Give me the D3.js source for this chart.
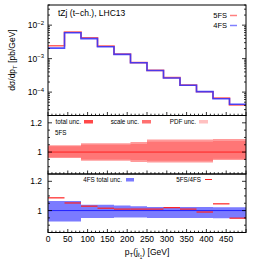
<!DOCTYPE html>
<html>
<head>
<meta charset="utf-8">
<script src="https://cdn.jsdelivr.net/npm/d3@7"></script>
<style>
body { margin: 0; background: #fff; }
svg { font-family: "Liberation Sans", Arial, sans-serif; }
</style>
</head>
<body>
<svg id="chart" width="262" height="266"></svg>
<script>
// bins of 500/12 GeV
var binEdges = d3.range(13).map(function(i) { return i * 500 / 12 })
var xTicks = [0, 50, 100, 150, 200, 250, 300, 350, 400, 450]

// dsigma/dpT [pb/GeV]
var fs5 = [2.43e-3, 6.18e-3, 4.2e-3, 2.36e-3, 1.36e-3, 7.6e-4, 4.45e-4, 2.7e-4, 1.62e-4, 1.02e-4, 6.6e-5, 4.1e-5]
var fs4 = [2.06e-3, 5.93e-3, 3.95e-3, 2.27e-3, 1.34e-3, 7.5e-4, 4.4e-4, 2.65e-4, 1.6e-4, 1.03e-4, 6.35e-5, 4.35e-5]

// 5FS relative uncertainties (ratio panel)
var tot5Up = [1.046, 1.046, 1.06, 1.06, 1.06, 1.068, 1.086, 1.086, 1.086, 1.086, 1.09, 1.09]
var tot5Dn = [0.96, 0.96, 0.94, 0.94, 0.94, 0.932, 0.928, 0.928, 0.928, 0.928, 0.946, 0.946]
var scale5Up = [1.04, 1.04, 1.05, 1.05, 1.05, 1.055, 1.07, 1.07, 1.07, 1.07, 1.075, 1.075]
var scale5Dn = [0.965, 0.965, 0.95, 0.95, 0.95, 0.945, 0.94, 0.94, 0.94, 0.94, 0.955, 0.955]

// 4FS total uncertainty + 5FS/4FS ratio
var tot4Up = [1.066, 1.066, 1.04, 1.04, 1.035, 1.03, 1.025, 1.025, 1.025, 1.025, 1.023, 1.023]
var tot4Dn = [0.925, 0.925, 0.95, 0.95, 0.952, 0.952, 0.95, 0.95, 0.95, 0.95, 0.948, 0.948]
var ratio = [1.087, 1.052, 1.03, 1.016, 1.01, 1.01, 1.01, 1.02, 1.01, 0.99, 1.046, 0.948]

var left = 48, right = 246
var top1 = 5, bot1 = 115.5, bot2 = 174, bot3 = 232.5

var svg = d3.select('#chart')

var x = d3.scaleLinear().domain([0, 500]).range([left, right])
var y1 = d3.scaleLog().domain([2e-5, 0.04]).range([bot1, top1])
var y2 = d3.scaleLinear().domain([0.85, 1.25]).range([bot2, bot1])
var y3 = d3.scaleLinear().domain([0.85, 1.25]).range([bot3, bot2])

function stepLine(vals, y) {
    var pts = []
    vals.forEach(function(v, i) {
        pts.push([x(binEdges[i]), y(v)])
        pts.push([x(binEdges[i+1]), y(v)])
    })
    return d3.line()(pts)
}

function band(up, dn, y) {
    var pts = []
    up.forEach(function(v, i) {
        pts.push([binEdges[i], v, dn[i]])
        pts.push([binEdges[i+1], v, dn[i]])
    })
    return d3.area()
        .x(function(d) { return x(d[0]) })
        .y0(function(d) { return y(d[2]) })
        .y1(function(d) { return y(d[1]) })(pts)
}

// ---- bands
svg.append('path').attr('d', band(tot5Up, tot5Dn, y2)).attr('fill', '#ff9a9a')
svg.append('path').attr('d', band(scale5Up, scale5Dn, y2)).attr('fill', '#ff7676')
svg.append('line').attr('x1', left).attr('x2', right).attr('y1', y2(1)).attr('y2', y2(1))
    .attr('stroke', '#f22').attr('stroke-width', 1)

svg.append('path').attr('d', band(tot4Up, tot4Dn, y3)).attr('fill', '#7b7bff')
svg.append('line').attr('x1', left).attr('x2', right).attr('y1', y3(1)).attr('y2', y3(1))
    .attr('stroke', '#22f').attr('stroke-width', 1)
// ratio drawn as separate horizontal segments
svg.append('g').selectAll('line').data(ratio).join('line')
    .attr('x1', function(d, i) { return x(binEdges[i]) })
    .attr('x2', function(d, i) { return x(binEdges[i+1]) })
    .attr('y1', function(d) { return y3(d) })
    .attr('y2', function(d) { return y3(d) })
    .attr('stroke', '#f22').attr('stroke-width', 1.2)

// ---- histograms
svg.append('path').attr('d', stepLine(fs5, y1)).attr('fill', 'none')
    .attr('stroke', '#ff4848').attr('stroke-width', 1.6).attr('stroke-opacity', 0.85)
svg.append('path').attr('d', stepLine(fs4, y1)).attr('fill', 'none')
    .attr('stroke', '#3030ff').attr('stroke-width', 1.6).attr('stroke-opacity', 0.85)

// ---- ticks
var tickG = svg.append('g').attr('stroke', '#000').attr('stroke-width', 0.8)
var minorX = d3.range(0, 501, 10)
;[bot1, bot2, bot3].forEach(function(yb) {
    minorX.forEach(function(v) {
        var len = v % 50 == 0 ? 3.5 : 1.8
        tickG.append('line').attr('x1', x(v)).attr('x2', x(v)).attr('y1', yb).attr('y2', yb - len)
    })
})
// log ticks
;[-5, -4, -3, -2].forEach(function(e) {
    d3.range(1, 10).forEach(function(m) {
        var v = m * Math.pow(10, e)
        if (v < 2e-5 || v > 0.04) return
        var len = m == 1 ? 4 : 2
        tickG.append('line').attr('x1', left).attr('x2', left + len).attr('y1', y1(v)).attr('y2', y1(v))
        tickG.append('line').attr('x1', right).attr('x2', right - len).attr('y1', y1(v)).attr('y2', y1(v))
    })
})
// ratio ticks
;[y2, y3].forEach(function(ys) {
    d3.range(0.9, 1.25, 0.05).forEach(function(v) {
        var major = Math.abs(v - 1) < 1e-6 || Math.abs(v - 1.2) < 1e-6
        var len = major ? 4 : 2
        tickG.append('line').attr('x1', left).attr('x2', left + len).attr('y1', ys(v)).attr('y2', ys(v))
        tickG.append('line').attr('x1', right).attr('x2', right - len).attr('y1', ys(v)).attr('y2', ys(v))
    })
})

// ---- frames
;[[top1, bot1], [bot1, bot2], [bot2, bot3]].forEach(function(p) {
    svg.append('rect').attr('x', left).attr('y', p[0]).attr('width', right - left).attr('height', p[1] - p[0])
        .attr('fill', 'none').attr('stroke', '#000').attr('stroke-width', 1)
})

// ---- tick labels
var fs = 8.5
xTicks.forEach(function(v) {
    svg.append('text').attr('x', x(v)).attr('y', 242).attr('text-anchor', 'middle')
        .attr('font-size', fs).text(v)
})
;[-2, -3, -4].forEach(function(e) {
    var t = svg.append('text').attr('x', left - 4).attr('y', y1(Math.pow(10, e)) + 3)
        .attr('text-anchor', 'end').attr('font-size', fs)
    t.append('tspan').text('10')
    t.append('tspan').attr('dy', -3.5).attr('font-size', 6).text('\u2212' + (-e))
})
;[y2, y3].forEach(function(ys) {
    [1, 1.2].forEach(function(v) {
        svg.append('text').attr('x', left - 6).attr('y', ys(v) + 3).attr('text-anchor', 'end')
            .attr('font-size', fs).text(v == 1 ? '1' : '1.2')
    })
})

// ---- axis titles
var yl = svg.append('text').attr('transform', 'translate(15,60) rotate(-90)')
    .attr('text-anchor', 'middle').attr('font-size', fs)
yl.append('tspan').text('d\u03c3/dp')
yl.append('tspan').attr('dy', 2).attr('font-size', 6).text('T')
yl.append('tspan').attr('dy', -2).text(' [pb/GeV]')

var xl = svg.append('text').attr('x', 147).attr('y', 255).attr('text-anchor', 'middle').attr('font-size', fs)
xl.append('tspan').text('p')
xl.append('tspan').attr('dy', 2).attr('font-size', 6).text('T')
xl.append('tspan').attr('dy', -2).text('(j')
xl.append('tspan').attr('dy', 2).attr('font-size', 6).text('\u2113')
xl.append('tspan').attr('dy', 1.5).attr('font-size', 4.5).text('1')
xl.append('tspan').attr('dy', -3.5).text(') [GeV]')

// ---- legends
svg.append('text').attr('x', 58).attr('y', 16).attr('font-size', fs).text('tZj (t\u2212ch.), LHC13')
svg.append('text').attr('x', 227).attr('y', 18).attr('text-anchor', 'end').attr('font-size', 7.5).text('5FS')
svg.append('line').attr('x1', 230).attr('x2', 237).attr('y1', 15.5).attr('y2', 15.5)
    .attr('stroke', '#ff8080').attr('stroke-width', 1.5)
svg.append('text').attr('x', 227).attr('y', 28).attr('text-anchor', 'end').attr('font-size', 7.5).text('4FS')
svg.append('line').attr('x1', 230).attr('x2', 237).attr('y1', 25.5).attr('y2', 25.5)
    .attr('stroke', '#8080ff').attr('stroke-width', 1.5)

var lf = 6.3
var bandLegend = [
    { label: 'total unc.', tx: 81, sx: 84, color: '#ff4848' },
    { label: 'scale unc.', tx: 139, sx: 142, color: '#ff7070' },
    { label: 'PDF unc.', tx: 196, sx: 199, color: '#ffc0c0' }
]
bandLegend.forEach(function(d) {
    svg.append('text').attr('x', d.tx).attr('y', 124).attr('text-anchor', 'end').attr('font-size', lf).text(d.label)
    svg.append('rect').attr('x', d.sx).attr('y', 120).attr('width', 9).attr('height', 3.5).attr('fill', d.color)
})
svg.append('text').attr('x', 55).attr('y', 134.5).attr('font-size', lf).text('5FS')

svg.append('text').attr('x', 122).attr('y', 181.5).attr('text-anchor', 'end').attr('font-size', lf).text('4FS total unc.')
svg.append('rect').attr('x', 126).attr('y', 178).attr('width', 8).attr('height', 3.5).attr('fill', '#7b7bff')
svg.append('text').attr('x', 201).attr('y', 181.5).attr('text-anchor', 'end').attr('font-size', lf).text('5FS/4FS')
svg.append('line').attr('x1', 205).attr('x2', 212).attr('y1', 179.5).attr('y2', 179.5)
    .attr('stroke', '#f22').attr('stroke-width', 1)
</script>
</body>
</html>
